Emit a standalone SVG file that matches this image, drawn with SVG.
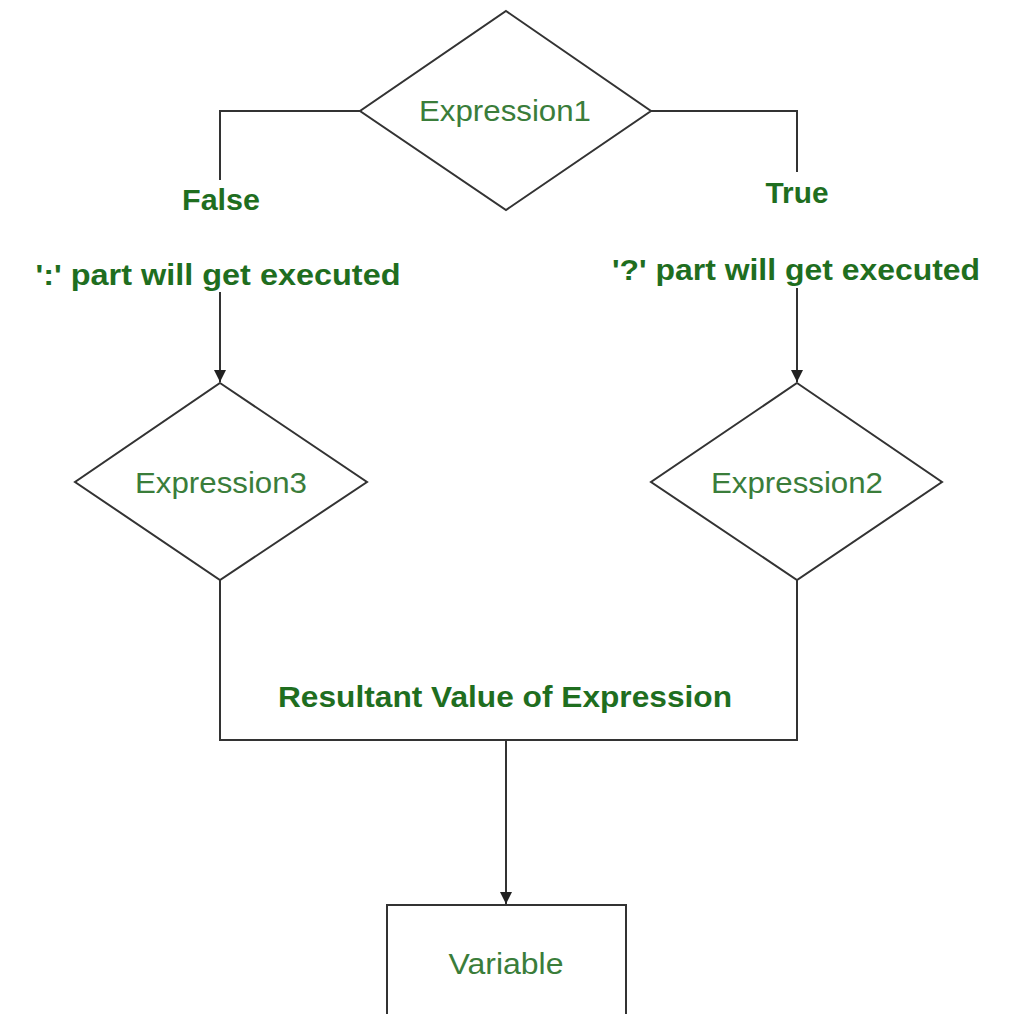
<svg xmlns="http://www.w3.org/2000/svg" width="1027" height="1014" viewBox="0 0 1027 1014">
  <style>
    .shape { fill: #ffffff; stroke: #333333; stroke-width: 2; }
    .wire { fill: none; stroke: #333333; stroke-width: 2; }
    .node-label { font-family: "Liberation Sans", Arial, sans-serif; font-size: 30px; fill: #3a7d3a; text-anchor: middle; }
    .note { font-family: "Liberation Sans", Arial, sans-serif; font-size: 29.5px; font-weight: bold; fill: #1f6e1f; text-anchor: middle; }
  </style>
  <defs>
    <marker id="arrow" viewBox="0 0 10 10" refX="10" refY="5" markerWidth="6" markerHeight="6" markerUnits="strokeWidth" orient="auto">
      <path d="M0,0 L10,5 L0,10 Z" fill="#222222"/>
    </marker>
  </defs>
  <rect width="1027" height="1014" fill="#ffffff"/>

  <!-- connectors -->
  <g id="connectors">
    <polyline class="wire" points="360,111 220,111 220,180"/>
    <polyline class="wire" points="651,111 797,111 797,172"/>
    <line class="wire" x1="220" y1="292" x2="220" y2="382" marker-end="url(#arrow)"/>
    <line class="wire" x1="797" y1="288" x2="797" y2="382" marker-end="url(#arrow)"/>
    <polyline class="wire" points="220,580 220,740 797,740 797,580"/>
    <line class="wire" x1="506" y1="740" x2="506" y2="904" marker-end="url(#arrow)"/>
  </g>

  <!-- labels on connectors -->
  <g id="labels">
    <text class="note" x="221" y="210" textLength="78" lengthAdjust="spacingAndGlyphs">False</text>
    <text class="note" x="797" y="203" textLength="63" lengthAdjust="spacingAndGlyphs">True</text>
    <text class="note" x="218" y="285" textLength="365" lengthAdjust="spacingAndGlyphs">':' part will get executed</text>
    <text class="note" x="796" y="280" textLength="368" lengthAdjust="spacingAndGlyphs">'?' part will get executed</text>
    <text class="note" x="505" y="707" textLength="454" lengthAdjust="spacingAndGlyphs">Resultant Value of Expression</text>
  </g>

  <g id="expression1">
    <polygon class="shape" points="506,11 651,111 506,210 360,111"/>
    <text class="node-label" x="505" y="121" textLength="172" lengthAdjust="spacingAndGlyphs">Expression1</text>
  </g>

  <g id="expression3">
    <polygon class="shape" points="220,383 367,482 220,580 75,482"/>
    <text class="node-label" x="221" y="493" textLength="172" lengthAdjust="spacingAndGlyphs">Expression3</text>
  </g>

  <g id="expression2">
    <polygon class="shape" points="797,383 942,482 797,580 651,482"/>
    <text class="node-label" x="797" y="493" textLength="172" lengthAdjust="spacingAndGlyphs">Expression2</text>
  </g>

  <g id="variable">
    <rect class="shape" x="387" y="905" width="239" height="120"/>
    <text class="node-label" x="506" y="974" textLength="115" lengthAdjust="spacingAndGlyphs">Variable</text>
  </g>
</svg>
